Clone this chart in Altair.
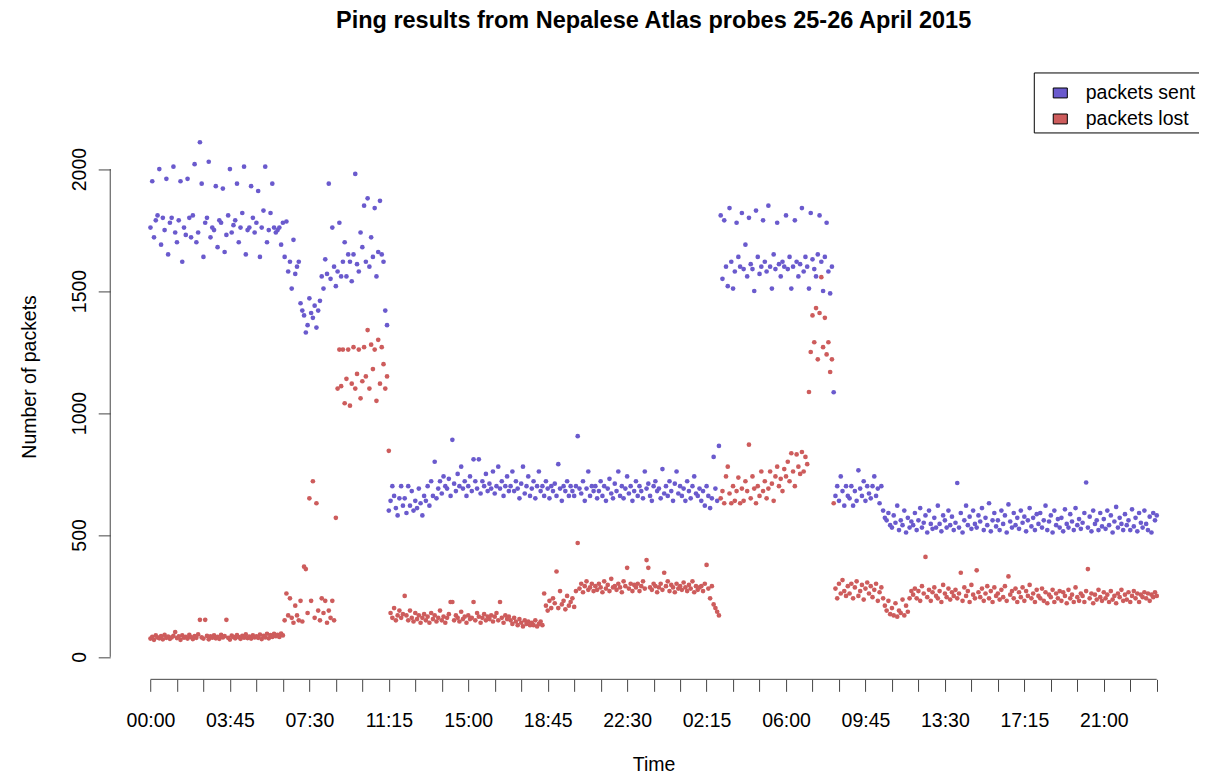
import altair as alt
import pandas as pd

# ---- data: one list per hour (5-minute samples) ----
sent_hours = [
    [1760, 1950, 1720, 1790, 1810, 2000, 1690, 1800, 1750, 1960, 1650, 1780],
    [1800, 2010, 1740, 1700, 1790, 1950, 1620, 1760, 1730, 1960, 1800, 1720],
    [1810, 2020, 1700, 1740, 2110, 1940, 1640, 1780, 1800, 2030, 1720, 1760],
    [1750, 1930, 1680, 1790, 1780, 1920, 1660, 1730, 1810, 2000, 1740, 1770],
    [1790, 1940, 1700, 1760, 1820, 2010, 1650, 1750, 1760, 1930, 1800, 1740],
    [1780, 1910, 1640, 1760, 1830, 2010, 1700, 1750, 1820, 1940, 1760, 1740],
    [1750, 1760, 1690, 1780, 1640, 1785, 1580, 1620, 1510, 1710, 1570, 1600],
    [1620, 1450, 1420, 1400, 1330, 1360, 1470, 1410, 1390, 1440, 1350, 1420],
    [1460, 1560, 1510, 1630, 1570, 1940, 1550, 1760, 1600, 1520, 1580, 1780],
    [1560, 1620, 1700, 1560, 1650, 1620, 1540, 1650, 1980, 1610, 1580, 1740],
    [1680, 1850, 1620, 1880, 1600, 1720, 1640, 1840, 1560, 1660, 1870, 1650],
    [1620, 1420, 1360, 600, 640, 700, 660, 610, 580, 650, 700, 620],
    [650, 590, 700, 620, 680, 600, 640, 610, 690, 630, 580, 660],
    [640, 700, 620, 720, 660, 800, 650, 690, 720, 670, 740, 700],
    [690, 730, 660, 890, 710, 680, 750, 700, 780, 690, 720, 660],
    [700, 740, 680, 810, 720, 690, 810, 670, 720, 700, 750, 680],
    [710, 690, 760, 670, 700, 780, 690, 720, 660, 700, 740, 680],
    [700, 760, 680, 720, 690, 650, 710, 780, 670, 700, 740, 660],
    [690, 720, 650, 700, 760, 680, 700, 660, 720, 690, 650, 700],
    [680, 710, 660, 790, 690, 640, 700, 680, 720, 660, 700, 680],
    [660, 700, 905, 690, 670, 720, 640, 690, 760, 660, 700, 680],
    [700, 650, 680, 720, 660, 700, 640, 690, 730, 670, 650, 710],
    [680, 760, 660, 700, 650, 690, 740, 670, 700, 640, 680, 720],
    [660, 700, 680, 650, 760, 690, 710, 660, 640, 700, 720, 680],
    [690, 650, 770, 670, 700, 660, 720, 680, 640, 710, 760, 670],
    [700, 660, 690, 640, 720, 680, 650, 700, 740, 670, 660, 690],
    [640, 680, 620, 700, 660, 610, 650, 820, 690, 640, 865, 1810],
    [1550, 1790, 1600, 1520, 1840, 1620, 1510, 1580, 1780, 1640, 1600, 1820],
    [1590, 1690, 1560, 1800, 1610, 1590, 1500, 1830, 1640, 1570, 1600, 1790],
    [1620, 1580, 1850, 1600, 1510, 1650, 1590, 1780, 1610, 1560, 1620, 1600],
    [1810, 1590, 1640, 1510, 1600, 1790, 1620, 1560, 1610, 1840, 1580, 1640],
    [1600, 1510, 1820, 1630, 1590, 1560, 1650, 1810, 1620, 1500, 1640, 1780],
    [1580, 1490, 1600, 1085, 660, 700, 640, 740, 680, 620, 700, 660],
    [650, 700, 620, 680, 640, 765, 690, 660, 720, 640, 700, 670],
    [650, 700, 740, 660, 690, 630, 700, 600, 570, 560, 590, 540],
    [530, 580, 550, 620, 520, 560, 540, 600, 510, 570, 530, 555],
    [540, 590, 520, 560, 610, 530, 550, 580, 510, 600, 545, 525],
    [570, 530, 620, 545, 515, 580, 560, 530, 600, 540, 575, 520],
    [550, 713, 530, 590, 510, 560, 620, 540, 575, 525, 600, 545],
    [530, 580, 555, 610, 520, 570, 540, 630, 515, 560, 590, 535],
    [560, 520, 600, 545, 580, 510, 625, 555, 530, 590, 540, 570],
    [525, 600, 550, 575, 515, 560, 610, 535, 570, 520, 585, 545],
    [590, 530, 560, 620, 520, 555, 580, 510, 600, 540, 565, 530],
    [570, 515, 605, 545, 530, 585, 555, 520, 610, 540, 565, 525],
    [550, 590, 715, 530, 575, 515, 600, 545, 560, 520, 590, 535],
    [565, 525, 600, 540, 580, 510, 555, 615, 530, 570, 545, 520],
    [585, 540, 560, 520, 605, 535, 570, 515, 590, 550, 530, 600],
    [545, 520, 575, 510, 590, 560, 580],
]

lost_hours = [
    [75, 82, 70, 88, 80, 76, 85, 72, 90, 78, 83, 74],
    [80, 86, 102, 77, 84, 70, 88, 79, 82, 75, 90, 81],
    [73, 85, 78, 92, 152, 80, 75, 152, 86, 72, 84, 79],
    [88, 76, 82, 74, 90, 80, 85, 152, 78, 71, 87, 82],
    [76, 89, 81, 74, 86, 79, 92, 77, 83, 75, 88, 80],
    [84, 78, 91, 73, 86, 80, 95, 76, 89, 82, 94, 85],
    [90, 82, 96, 88, 150, 260, 170, 240, 160, 140, 210, 170],
    [150, 230, 145, 370, 360, 180, 650, 230, 720, 160, 630, 190],
    [150, 240, 180, 230, 140, 190, 160, 230, 150, 570, 1100, 1260],
    [1110, 1260, 1040, 1140, 1260, 1030, 1120, 1270, 1100, 1160, 1260, 1060],
    [1130, 1270, 1150, 1340, 1100, 1280, 1180, 1260, 1050, 1300, 1120, 1270],
    [1200, 1100, 1150, 845, 180, 160, 200, 150, 170, 190, 160, 175],
    [250, 170, 150, 190, 160, 145, 180, 155, 170, 140, 160, 175],
    [150, 165, 140, 180, 155, 170, 145, 160, 190, 150, 165, 140],
    [160, 175, 225, 225, 150, 170, 160, 145, 185, 155, 165, 140],
    [170, 155, 160, 225, 150, 180, 165, 140, 160, 175, 150, 165],
    [155, 170, 145, 165, 180, 150, 225, 160, 140, 170, 155, 165],
    [150, 135, 160, 145, 130, 155, 140, 125, 150, 135, 145, 130],
    [140, 130, 150, 125, 135, 145, 130, 260, 210, 190, 230, 200],
    [240, 220, 350, 200, 270, 215, 230, 195, 250, 210, 225, 240],
    [205, 270, 467, 280, 300, 265, 290, 310, 275, 285, 300, 270],
    [290, 275, 300, 285, 265, 310, 280, 295, 270, 320, 285, 290],
    [275, 300, 285, 265, 310, 290, 365, 280, 300, 270, 295, 285],
    [300, 270, 290, 310, 280, 397, 365, 285, 275, 300, 290, 265],
    [285, 300, 275, 345, 290, 310, 270, 295, 285, 265, 300, 280],
    [290, 275, 305, 285, 270, 295, 280, 310, 265, 290, 275, 285],
    [290, 270, 300, 377, 280, 240, 290, 215, 200, 185, 170, 650],
    [680, 630, 740, 780, 670, 630, 700, 640, 680, 735, 630, 690],
    [640, 720, 680, 870, 650, 740, 690, 630, 700, 660, 760, 680],
    [720, 650, 690, 760, 710, 640, 740, 780, 700, 730, 680, 770],
    [740, 800, 720, 835, 760, 700, 830, 780, 750, 840, 760, 820],
    [790, 1086, 1250, 1400, 1290, 1430, 1220, 1410, 1557, 1270, 1390, 1240],
    [1290, 1168, 1220, 630, 280, 240, 300, 260, 315, 270, 250, 290],
    [260, 300, 240, 285, 310, 250, 270, 295, 235, 280, 305, 260],
    [290, 245, 275, 300, 230, 265, 285, 240, 210, 190, 230, 175],
    [200, 170, 220, 165, 190, 180, 235, 170, 210, 185, 240, 270],
    [255, 280, 240, 270, 230, 290, 260, 410, 245, 275, 230, 265],
    [285, 250, 240, 270, 225, 295, 260, 245, 280, 235, 265, 250],
    [275, 240, 260, 345, 230, 285, 250, 270, 225, 295, 255, 240],
    [355, 265, 245, 280, 230, 260, 290, 240, 270, 225, 285, 250],
    [260, 235, 275, 245, 290, 230, 330, 255, 270, 240, 280, 225],
    [265, 245, 285, 230, 270, 250, 295, 240, 260, 225, 275, 250],
    [240, 280, 230, 265, 220, 255, 245, 275, 225, 260, 240, 270],
    [230, 265, 250, 220, 275, 240, 255, 225, 285, 245, 230, 260],
    [250, 225, 270, 360, 240, 260, 220, 255, 235, 275, 245, 230],
    [265, 240, 255, 225, 270, 235, 250, 220, 260, 245, 275, 230],
    [255, 235, 265, 225, 250, 270, 240, 260, 225, 255, 245, 265],
    [240, 260, 230, 255, 245, 265, 250],
]

series_names = ["packets sent", "packets lost"]
series_colors = ["#6A5ACD", "#CD5C5C"]
step_minutes = 5
x_ticks = list(range(0, 2851, 75))        # minutes from 00:00, 25 April
y_ticks = [0, 500, 1000, 1500, 2000]

sent = [v for h in sent_hours for v in h]
lost = [v for h in lost_hours for v in h]
minutes = [i * step_minutes for i in range(len(sent))]

df = pd.DataFrame({
    "minute": minutes + minutes,
    "packets": sent + lost,
    "series": [series_names[0]] * len(sent) + [series_names[1]] * len(lost),
    "order_key": [0] * len(sent) + [1] * len(lost),
})
xline = pd.DataFrame({"minute": [x_ticks[0]], "b": [x_ticks[-1]]})
yline = pd.DataFrame({"packets": [y_ticks[0]], "b": [y_ticks[-1]]})

FONT = "Liberation Sans"
W, H = 1087, 606
xscale = alt.Scale(domain=[-114, 2964], nice=False, zero=False)
yscale = alt.Scale(domain=[-92, 2392], nice=False, zero=False)

x_axis = alt.Axis(
    values=x_ticks,
    labelExpr="datum.value % 225 == 0 ? utcFormat(datum.value * 60000, '%H:%M') : ''",
    tickSize=12, domain=False, grid=False, labelFontSize=19.5, labelFont=FONT,
    labelColor="black", labelPadding=20, labelOverlap=False, labelFlush=False,
    labelBound=False, tickColor="#444", title="Time", titleFont=FONT,
    titleFontSize=19.5, titleFontWeight="normal", titleColor="black",
    titleX=543.5, titleY=91, titleAlign="center", titleBaseline="alphabetic")
y_axis = alt.Axis(
    values=y_ticks, format="d", tickSize=12, domain=False, grid=False,
    labelAngle=270, labelAlign="center", labelBaseline="alphabetic",
    labelPadding=12.5, labelFontSize=19.5, labelFont=FONT, labelColor="black",
    labelOverlap=False, tickColor="#444",
    title="Number of packets", titleFont=FONT, titleFontSize=19.5,
    titleFontWeight="normal", titleColor="black", titleAngle=270,
    titleX=-75, titleY=303, titleAlign="center", titleBaseline="alphabetic")

points = alt.Chart(df).mark_point(filled=True, size=22, opacity=1).encode(
    x=alt.X("minute:Q", scale=xscale, axis=x_axis),
    y=alt.Y("packets:Q", scale=yscale, axis=y_axis),
    color=alt.Color("series:N", sort=series_names,
                    scale=alt.Scale(domain=series_names, range=series_colors),
                    legend=alt.Legend(
                        title=None, orient="none", legendX=923.75, legendY=-1,
                        symbolType="M-0.44,-0.31H0.44V0.31H-0.44Z", symbolSize=1024,
                        symbolStrokeColor="black", symbolStrokeWidth=1,
                        symbolOpacity=1, labelFontSize=19.5, labelFont=FONT,
                        labelColor="black", labelOffset=9, symbolOffset=6,
                        padding=4, rowPadding=-6, strokeColor="black",
                        fillColor="white")),
    order=alt.Order("order_key:Q"),
)

xaxis_line = alt.Chart(xline).mark_rule(color="#444", strokeWidth=1).encode(
    x=alt.X("minute:Q", scale=xscale, axis=x_axis), x2="b:Q", y=alt.value(H))
yaxis_line = alt.Chart(yline).mark_rule(color="#444", strokeWidth=1).encode(
    y=alt.Y("packets:Q", scale=yscale, axis=y_axis), y2="b:Q", x=alt.value(0))

chart = alt.layer(points, xaxis_line, yaxis_line).properties(
    width=W, height=H, background="white",
    title=alt.TitleParams(
        "Ping results from Nepalese Atlas probes 25-26 April 2015",
        font=FONT, fontSize=23.5, fontWeight="bold", color="black",
        anchor="middle", baseline="alphabetic", offset=20, frame="group"),
    autosize=alt.AutoSizeParams(type="none"),
    padding={"left": 102.25, "top": 65.4, "right": 2, "bottom": 96},
).configure_view(stroke=None)

chart.save("out.html", embed_options={"renderer": "svg", "actions": False})
